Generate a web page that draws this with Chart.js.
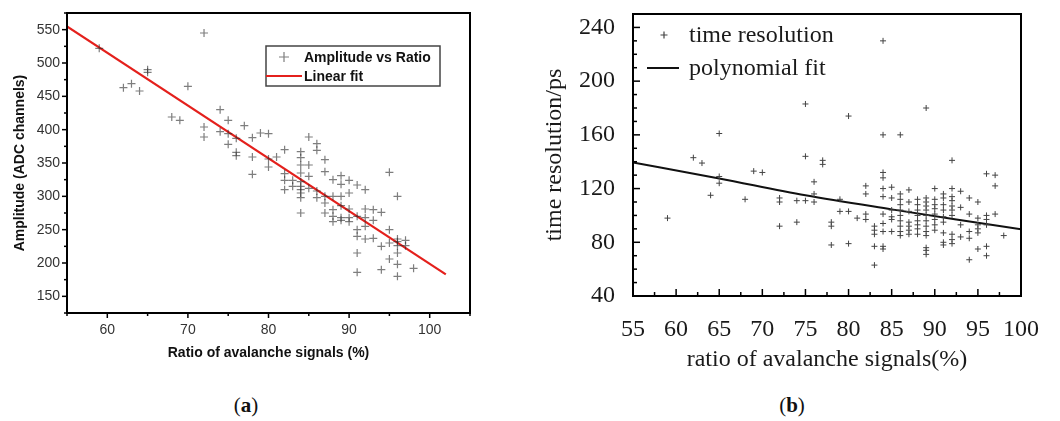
<!DOCTYPE html>
<html>
<head>
<meta charset="utf-8">
<script src="https://cdn.jsdelivr.net/npm/chart.js@4"></script>
<style>
  body { margin: 0; background: #fff; width: 1060px; height: 421px; position: relative; overflow: hidden; }
  canvas { position: absolute; top: 0; }
  .cap { position: absolute; top: 393px; width: 60px; margin-left: -30px; text-align: center;
         font: 21px "Liberation Serif", serif; color: #111; }
</style>
</head>
<body>
<canvas id="chartA" width="530" height="380" style="left:0"></canvas>
<canvas id="chartB" width="530" height="380" style="left:530px"></canvas>
<div class="cap" style="left:246px">(<b>a</b>)</div>
<div class="cap" style="left:792px">(<b>b</b>)</div>
<script>
// ================= DATA (a) =================
const ratioA = [
  59, 62, 63, 64, 65, 65, 68, 69, 70, 72, 72, 72, 74, 74, 75, 75, 75, 76, 76, 76, 77,
  78, 78, 78, 79, 80, 80, 80, 81, 82, 82, 82, 82, 83, 83,
  84, 84, 84, 84, 84, 84, 84, 84, 84, 84, 85, 85, 85, 85, 86, 86, 86, 86,
  87, 87, 87, 87, 87, 88, 88, 88, 88, 88, 89, 89, 89, 89, 89, 89,
  90, 90, 90, 90, 90, 91, 91, 91, 91, 91, 91, 92, 92, 92, 92, 92,
  93, 93, 93, 94, 94, 94, 95, 95, 95, 95, 96, 96, 96, 96, 96, 96, 96, 97, 97, 98
];
const amplitudeA = [
  522, 463, 469, 458, 490, 486, 419, 414, 465, 545, 404, 389, 430, 397, 414, 394, 378, 387, 366, 361, 406,
  388, 359, 333, 395, 394, 356, 344, 359, 370, 334, 324, 310, 324, 315,
  367, 358, 347, 335, 322, 315, 310, 305, 298, 275, 389, 347, 330, 312, 379, 369, 308, 298,
  355, 337, 300, 290, 275, 325, 300, 280, 270, 262, 331, 318, 300, 286, 268, 264,
  324, 305, 281, 268, 262, 317, 270, 250, 240, 215, 186, 310, 281, 268, 255, 236,
  280, 264, 237, 276, 225, 190, 336, 250, 230, 206, 300, 236, 232, 226, 215, 198, 180, 234, 226, 192
];
const fitAX = [55, 102];
const fitAY = [555, 183];
const xTicksA = [60, 70, 80, 90, 100];
const yTicksA = [150, 200, 250, 300, 350, 400, 450, 500, 550];

// ================= DATA (b) =================
const ratioB = [
  59, 62, 63, 64, 65, 65, 65, 68, 69, 70, 72, 72, 72, 74, 74, 75, 75, 75, 76, 76, 76, 77, 77,
  78, 78, 78, 79, 79, 80, 80, 80, 81, 82, 82, 82, 82, 83, 83, 83, 83, 83,
  84, 84, 84, 84, 84, 84, 84, 84, 84, 84, 84, 85, 85, 85, 85, 85, 85,
  86, 86, 86, 86, 86, 86, 86, 86, 86, 86, 87, 87, 87, 87, 87, 87, 87,
  88, 88, 88, 88, 88, 88, 88, 88, 89, 89, 89, 89, 89, 89, 89, 89, 89, 89, 89, 89, 89,
  90, 90, 90, 90, 90, 90, 90, 90, 91, 91, 91, 91, 91, 91, 91, 91, 91,
  92, 92, 92, 92, 92, 92, 92, 92, 92, 92, 93, 93, 93, 93, 94, 94, 94, 94, 94,
  95, 95, 95, 95, 95, 95, 96, 96, 96, 96, 96, 96, 97, 97, 97, 98
];
const timeResB = [
  98, 143, 139, 115, 161, 129, 124, 112, 133, 132, 113, 110, 92, 111, 95, 183, 144, 111, 125, 116, 110, 141, 138,
  95, 92, 78, 112, 103, 174, 103, 79, 98, 122, 116, 101, 97, 92, 89, 86, 77, 63,
  230, 160, 132, 128, 120, 114, 101, 94, 88, 77, 75, 121, 113, 104, 99, 97, 88,
  160, 116, 112, 108, 104, 100, 96, 92, 88, 85, 119, 110, 103, 95, 92, 89, 86,
  112, 108, 104, 100, 96, 93, 90, 86, 180, 113, 110, 107, 104, 100, 96, 92, 88, 85, 76, 74, 71,
  120, 112, 108, 105, 101, 97, 93, 89, 116, 113, 108, 104, 99, 95, 87, 80, 78,
  141, 120, 114, 111, 107, 104, 100, 86, 82, 79, 118, 106, 93, 84, 113, 101, 88, 83, 67,
  110, 98, 93, 90, 87, 75, 131, 100, 97, 93, 77, 70, 130, 122, 101, 85
];
const fitBX = [55, 65, 75, 85, 92.5, 100];
const fitBY = [139.5, 127.5, 115, 104.5, 97, 89.7];
const xTicksB = [55, 60, 65, 70, 75, 80, 85, 90, 95, 100];
const yTicksB = [40, 80, 120, 160, 200, 240];

const pairs = (xs, ys) => xs.map((x, i) => ({ x: x, y: ys[i] }));

// ================= PLUGINS =================
// frame round the plot area plus major/minor tick marks
const frameTicks = {
  id: 'frameTicks',
  afterDraw(chart, args, o) {
    const { ctx, chartArea: a } = chart;
    const xs = chart.scales.x, ys = chart.scales.y;
    const dir = o.inward ? -1 : 1;
    const isMajor = (v, m) => Math.abs(v / m - Math.round(v / m)) < 1e-6;
    ctx.save();
    ctx.strokeStyle = '#000';
    ctx.lineWidth = o.frameWidth;
    ctx.strokeRect(a.left, a.top, a.right - a.left, a.bottom - a.top);
    ctx.lineWidth = o.tickWidth;
    for (let v = xs.min; v <= xs.max + 1e-9; v += o.xMinor) {
      const p = xs.getPixelForValue(v);
      const len = isMajor(v, o.xMajor) ? o.majorLen : o.minorLen;
      ctx.beginPath();
      ctx.moveTo(p, a.bottom);
      ctx.lineTo(p, a.bottom + dir * len);
      ctx.stroke();
    }
    for (let v = ys.min; v <= ys.max + 1e-9; v += o.yMinor) {
      const p = ys.getPixelForValue(v);
      const len = isMajor(v, o.yMajor) ? o.majorLen : o.minorLen;
      ctx.beginPath();
      ctx.moveTo(a.left, p);
      ctx.lineTo(a.left - dir * len, p);
      ctx.stroke();
    }
    ctx.restore();
  }
};

// legend drawn inside the plot, one row per dataset
const boxLegend = {
  id: 'boxLegend',
  afterDraw(chart, args, o) {
    const ctx = chart.ctx;
    ctx.save();
    if (o.box) {
      ctx.strokeStyle = '#444';
      ctx.lineWidth = 1.5;
      ctx.strokeRect(o.box[0], o.box[1], o.box[2], o.box[3]);
    }
    ctx.font = o.font;
    ctx.fillStyle = o.color;
    ctx.textBaseline = 'middle';
    chart.data.datasets.forEach((ds, i) => {
      const y = o.rows[i];
      ctx.strokeStyle = ds.borderColor;
      if (ds.showLine) {
        ctx.lineWidth = ds.borderWidth;
        ctx.beginPath();
        ctx.moveTo(o.lineFrom, y);
        ctx.lineTo(o.lineTo, y);
        ctx.stroke();
      } else {
        ctx.lineWidth = 1.2;
        ctx.beginPath();
        ctx.moveTo(o.crossX - o.crossR, y);
        ctx.lineTo(o.crossX + o.crossR, y);
        ctx.moveTo(o.crossX, y - o.crossR);
        ctx.lineTo(o.crossX, y + o.crossR);
        ctx.stroke();
      }
      ctx.fillText(ds.label, o.textX, y + 1);
    });
    ctx.restore();
  }
};

const fixedTicks = list => scale => { scale.ticks = list.map(v => ({ value: v })); };
// keep the plot area where layout.padding puts it (no room made for overhanging labels)
const fitX = h => s => { s.height = h; s.paddingLeft = 0; s.paddingRight = 0; };
const fitY = w => s => { s.width = w; s.paddingTop = 0; s.paddingBottom = 0; };

// ================= CHART (a) =================
const sans = '"Liberation Sans", Arial, sans-serif';
new Chart(document.getElementById('chartA'), {
  type: 'scatter',
  data: {
    datasets: [
      { label: 'Amplitude vs Ratio', data: pairs(ratioA, amplitudeA), pointStyle: 'cross',
        pointRadius: 4, borderWidth: 1.2, borderColor: 'rgba(40,40,40,0.6)' },
      { label: 'Linear fit', data: pairs(fitAX, fitAY), showLine: true, pointRadius: 0,
        borderColor: '#e4201c', borderWidth: 2.2 }
    ]
  },
  options: {
    responsive: false,
    animation: false,
    layout: { padding: { left: 0, top: 13, right: 60, bottom: 0 } },
    plugins: {
      legend: { display: false },
      tooltip: { enabled: false },
      frameTicks: { inward: false, frameWidth: 2, tickWidth: 1.5, majorLen: 5, minorLen: 3,
                    xMinor: 5, xMajor: 10, yMinor: 25, yMajor: 50 },
      boxLegend: { box: [266, 46, 174, 40], rows: [57, 76], crossX: 284, crossR: 5,
                   lineFrom: 266, lineTo: 302, textX: 304,
                   font: 'bold 14px ' + sans, color: '#111' }
    },
    scales: {
      x: {
        min: 55, max: 105,
        afterBuildTicks: fixedTicks(xTicksA),
        afterFit: fitX(67),
        grid: { display: false, drawTicks: false },
        border: { display: false },
        ticks: { padding: 9, color: '#333', font: { family: sans, size: 14 } },
        title: { display: true, text: 'Ratio of avalanche signals (%)', color: '#111',
                 padding: { top: 0, bottom: 18 },
                 font: { family: sans, size: 14, weight: 'bold' } }
      },
      y: {
        min: 125, max: 575,
        afterBuildTicks: fixedTicks(yTicksA),
        afterFit: fitY(67),
        grid: { display: false, drawTicks: false },
        border: { display: false },
        ticks: { padding: 7, color: '#333', font: { family: sans, size: 14 } },
        title: { display: true, text: 'Amplitude (ADC channels)', color: '#111',
                 padding: { top: 12, bottom: 0 },
                 font: { family: sans, size: 14, weight: 'bold' } }
      }
    }
  },
  plugins: [frameTicks, boxLegend]
});

// ================= CHART (b) =================
const serif = '"Liberation Serif", "Times New Roman", serif';
new Chart(document.getElementById('chartB'), {
  type: 'scatter',
  data: {
    datasets: [
      { label: 'time resolution', data: pairs(ratioB, timeResB), pointStyle: 'cross',
        pointRadius: 3, borderWidth: 1, borderColor: '#444' },
      { label: 'polynomial fit', data: pairs(fitBX, fitBY), showLine: true, pointRadius: 0,
        cubicInterpolationMode: 'monotone', borderColor: '#111', borderWidth: 2 }
    ]
  },
  options: {
    responsive: false,
    animation: false,
    layout: { padding: { left: 0, top: 14, right: 39, bottom: 0 } },
    plugins: {
      legend: { display: false },
      tooltip: { enabled: false },
      frameTicks: { inward: true, frameWidth: 2, tickWidth: 1.5, majorLen: 7, minorLen: 4,
                    xMinor: 2.5, xMajor: 5, yMinor: 10, yMajor: 40 },
      boxLegend: { box: null, rows: [35, 68], crossX: 134, crossR: 3.5,
                   lineFrom: 117, lineTo: 149, textX: 159,
                   font: '24px ' + serif, color: '#1a1a1a' }
    },
    scales: {
      x: {
        min: 55, max: 100,
        afterBuildTicks: fixedTicks(xTicksB),
        afterFit: fitX(84),
        grid: { display: false, drawTicks: false },
        border: { display: false },
        ticks: { padding: 19, color: '#1a1a1a', maxRotation: 0, font: { family: serif, size: 24 } },
        title: { display: true, text: 'ratio of avalanche signals(%)', color: '#1a1a1a',
                 padding: { top: 0, bottom: 6 }, font: { family: serif, size: 24 } }
      },
      y: {
        min: 40, max: 250,
        afterBuildTicks: fixedTicks(yTicksB),
        afterFit: fitY(103),
        grid: { display: false, drawTicks: false },
        border: { display: false },
        ticks: { padding: 18, color: '#1a1a1a', font: { family: serif, size: 24 } },
        title: { display: true, text: 'time resolution/ps', color: '#1a1a1a',
                 padding: { top: 10, bottom: 0 }, font: { family: serif, size: 24 } }
      }
    }
  },
  plugins: [frameTicks, boxLegend]
});
</script>
</body>
</html>
